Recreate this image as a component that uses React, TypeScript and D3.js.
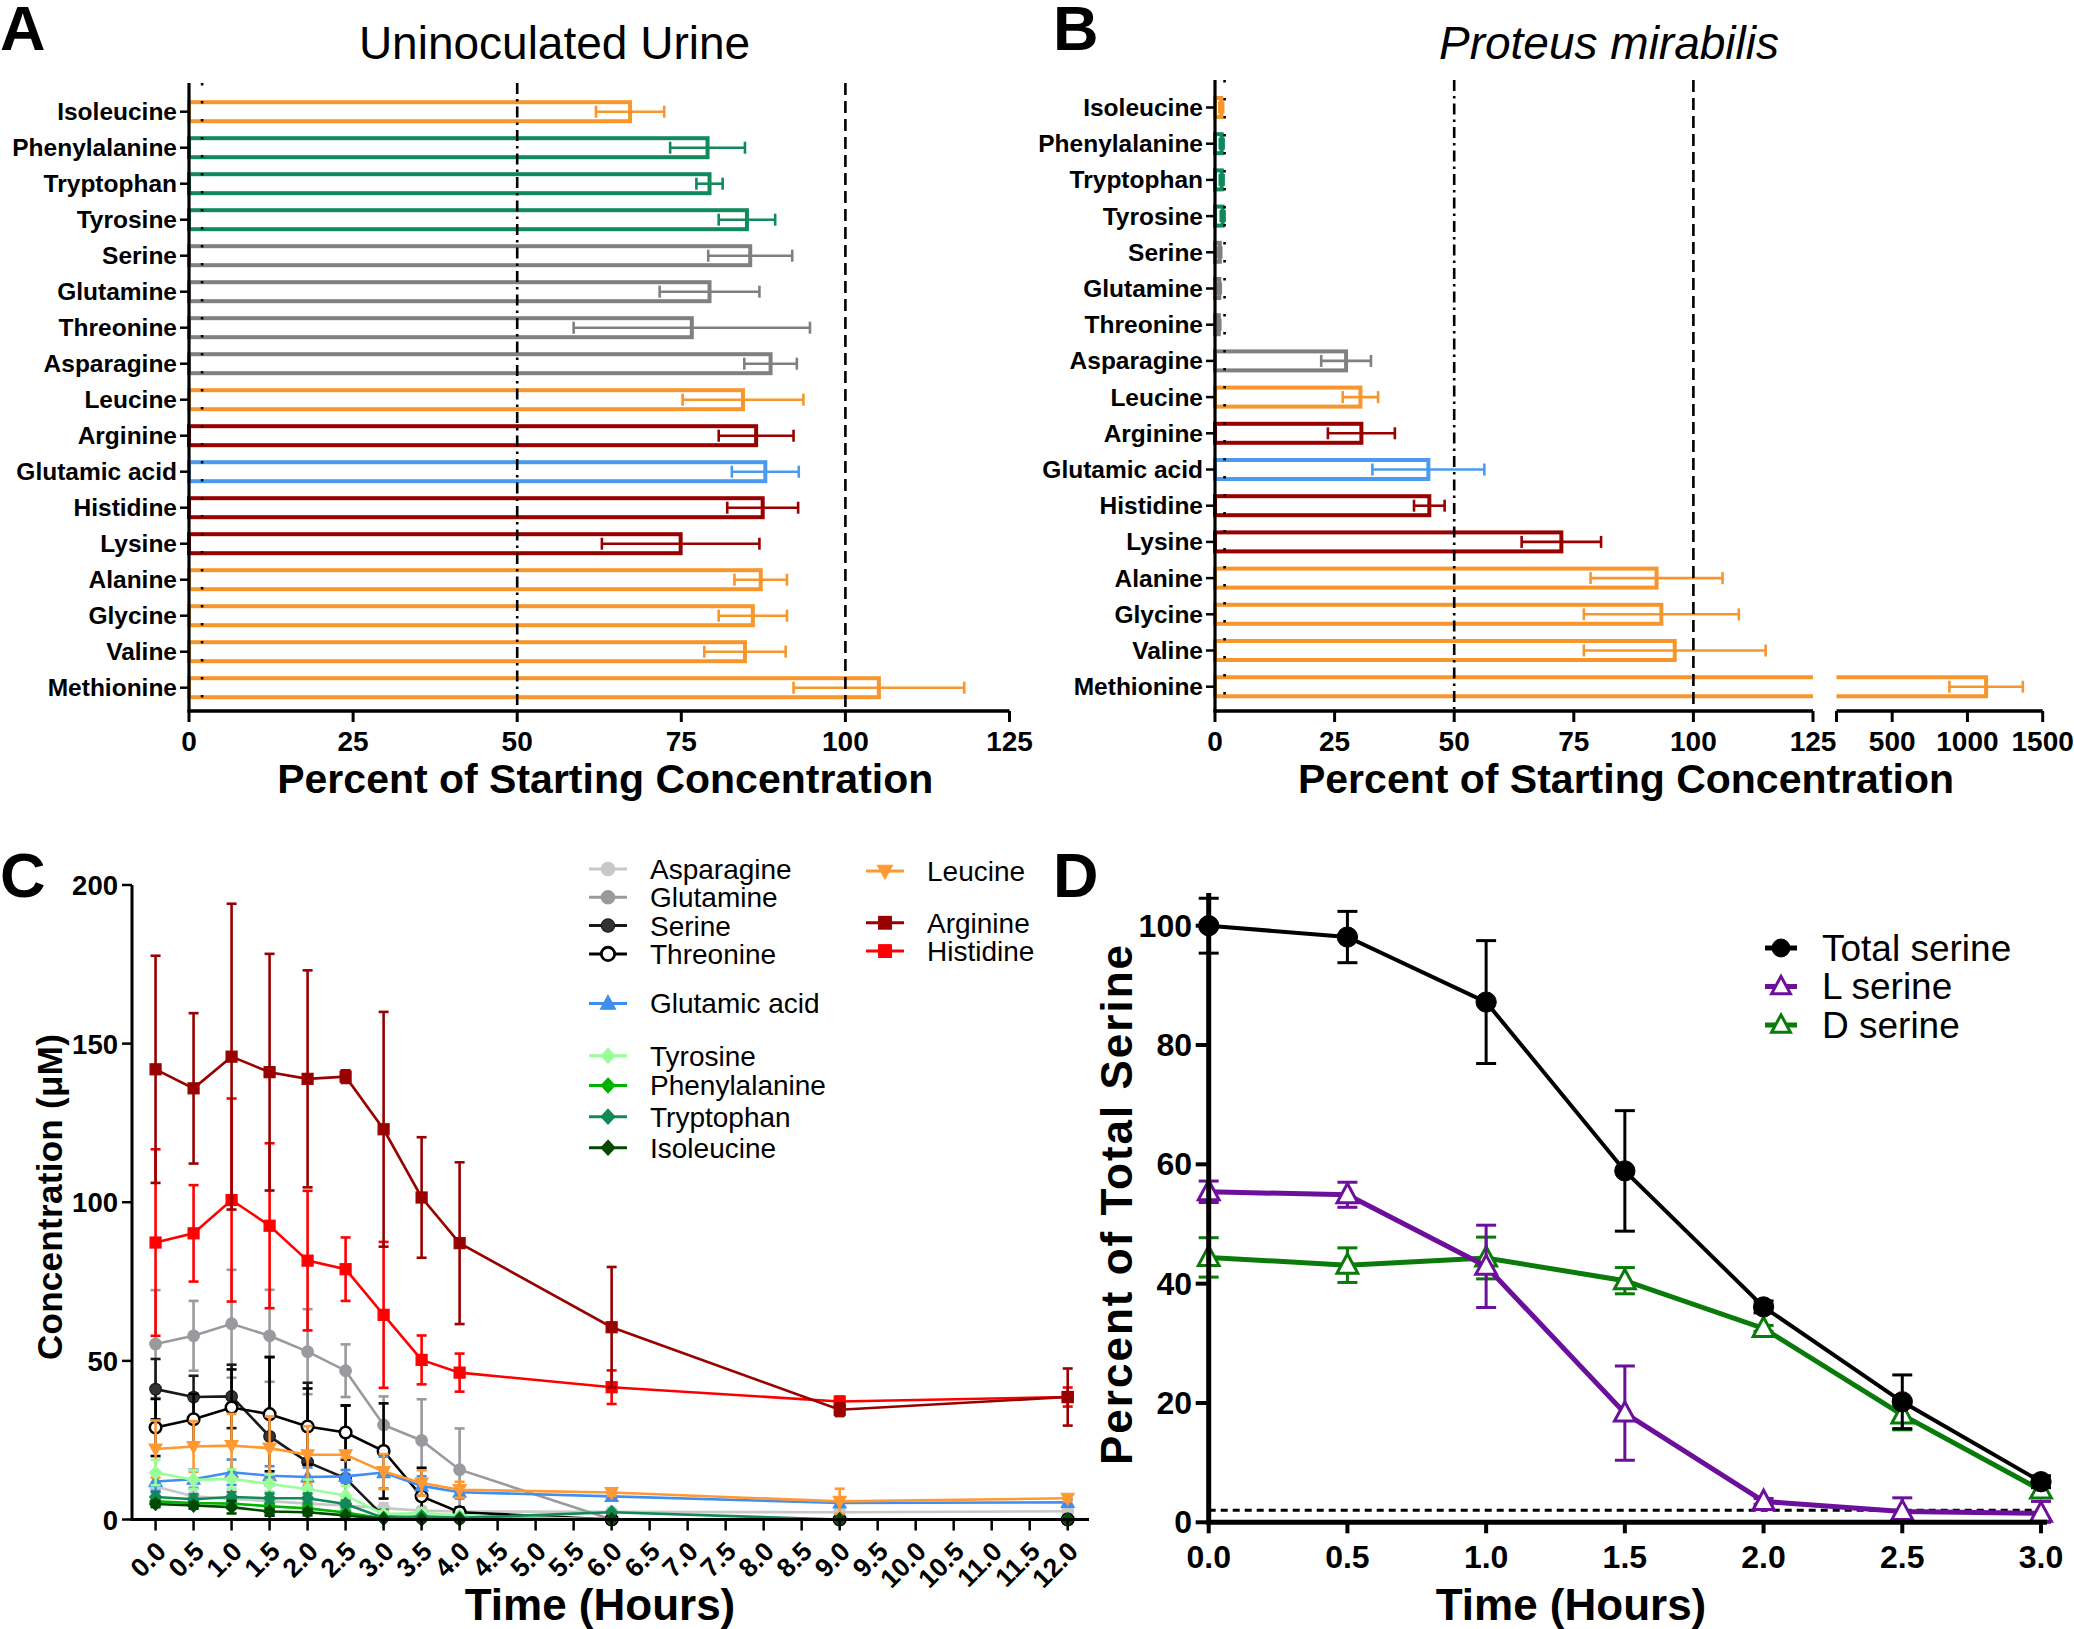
import React from "react";
import * as d3 from "d3";

const FONT = "'Liberation Sans', Arial, Helvetica, sans-serif";

// ---------- Panels A & B data ----------
const aminoAcids = ["Isoleucine", "Phenylalanine", "Tryptophan", "Tyrosine", "Serine", "Glutamine", "Threonine", "Asparagine", "Leucine", "Arginine", "Glutamic acid", "Histidine", "Lysine", "Alanine", "Glycine", "Valine", "Methionine"];
const aminoGroup = ["hydrophobic", "aromatic", "aromatic", "aromatic", "polar", "polar", "polar", "polar", "hydrophobic", "basic", "acidic", "basic", "basic", "hydrophobic", "hydrophobic", "hydrophobic", "hydrophobic"];
const uninocMean = [67.2, 79.0, 79.3, 85.0, 85.5, 79.3, 76.6, 88.6, 84.4, 86.4, 87.8, 87.4, 74.9, 87.1, 85.9, 84.7, 105.1];
const uninocSD = [5.2, 5.7, 2.0, 4.3, 6.4, 7.6, 18.0, 4.0, 9.2, 5.7, 5.1, 5.4, 12.0, 4.0, 5.2, 6.2, 13.0];
const proteusMean = [1.3, 1.4, 1.4, 1.6, 1.0, 0.9, 0.8, 27.4, 30.4, 30.6, 44.6, 44.8, 72.4, 92.3, 93.3, 96.1, 1124];
const proteusSD = [0.4, 0.4, 0.4, 0.4, 0.3, 0.3, 0.3, 5.2, 3.7, 7.0, 11.7, 3.2, 8.3, 13.8, 16.2, 19.0, 244];
const pctTicks = [0, 25, 50, 75, 100, 125];
const pctTicksHigh = [500, 1000, 1500];
const refLines = [
  { value: 2, dash: "2.5,15.5" },
  { value: 50, dash: "11,5,2.5,5" },
  { value: 100, dash: "12,6" },
];
const groupColor: Record<string, string> = {
  hydrophobic: "#F7962C",
  aromatic: "#108A5C",
  polar: "#808080",
  basic: "#990000",
  acidic: "#4A9BF0",
};

// ---------- Panel C data ----------
const timeC = [0, 0.5, 1, 1.5, 2, 2.5, 3, 3.5, 4, 6, 9, 12];
const timeTicksC = [0, 0.5, 1, 1.5, 2, 2.5, 3, 3.5, 4, 4.5, 5, 5.5, 6, 6.5, 7, 7.5, 8, 8.5, 9, 9.5, 10, 10.5, 11, 11.5, 12];
const concTicks = [0, 50, 100, 150, 200];
const asparagine = [10.4, 7.3, 6.5, 5.8, 5.0, 4.4, 3.6, 2.8, 2.5, 2.4, 2.3, 2.6];
const asparagineSD = [4, 3, 3, 3, 2.5, 2, 1.5, 1, 1, 0.5, 0.5, 0.5];
const glutamine = [55.3, 57.9, 61.7, 57.9, 52.9, 46.9, 29.8, 24.9, 15.7, 0, 0, 0];
const glutamineSD = [17, 11, 17, 14.5, 13.4, 8.3, 9, 13, 13, 0, 0, 0];
const serine = [41.1, 38.6, 38.8, 26.2, 18.1, 13.0, 1.0, 0.5, 0.3, 0, 0, 0];
const serineSD = [9.5, 6.7, 10, 25, 25, 23, 2, 1, 0.5, 0, 0, 0];
const threonine = [29.0, 31.6, 35.3, 33.2, 29.3, 27.4, 21.6, 7.3, 2.3, 0, 0, 0];
const threonineSD = [9, 8, 12, 18, 12, 8.5, 15, 9, 1.5, 0, 0, 0];
const glutamicAcid = [12.0, 12.7, 14.9, 13.8, 13.4, 13.6, 14.8, 10.6, 8.6, 7.3, 5.2, 5.4];
const glutamicAcidSD = [3, 3, 4, 3, 3, 2, 5, 3, 2, 1, 1, 1];
const tyrosine = [14.8, 12.5, 12.8, 11.2, 9.6, 7.6, 1.7, 2.0, 1.3, 0, 0, 0];
const tyrosineSD = [4, 3, 3, 3, 3, 3, 1, 1, 0.5, 0, 0, 0];
const phenylalanine = [5.7, 5.2, 5.0, 4.2, 3.5, 2.2, 0.3, 0.3, 0.3, 0, 0, 0];
const phenylalanineSD = [1.5, 1.5, 1.5, 1, 1, 0.5, 0, 0, 0, 0, 0, 0];
const tryptophan = [7.1, 6.4, 7.1, 6.7, 6.7, 4.9, 0.5, 1.0, 0.5, 2.3, 0, 0];
const tryptophanSD = [1.5, 1.5, 1.5, 1.5, 1.5, 1, 0, 0, 0, 0, 0, 0];
const isoleucine = [4.9, 4.4, 3.9, 2.5, 2.3, 1.3, 0.2, 0, 0, 0, 0, 0];
const isoleucineSD = [1, 1, 2, 1, 1, 0.5, 0, 0, 0, 0, 0, 0];
const leucine = [22.2, 23.0, 23.3, 22.5, 20.4, 20.4, 15.1, 11.5, 9.4, 8.5, 5.7, 6.7];
const leucineSD = [9, 8, 10, 10, 9, 1, 5.5, 4, 2.5, 1, 4, 1];
const arginine = [141.9, 135.9, 145.9, 141.0, 138.9, 139.6, 123.0, 101.5, 87.1, 60.6, 34.6, 38.6];
const arginineSD = [35.8, 23.7, 48.2, 37.3, 34.2, 2.0, 37.0, 19.0, 25.5, 19.0, 2.0, 9.0];
const histidine = [87.3, 90.2, 100.7, 92.6, 81.6, 78.9, 64.5, 50.3, 46.3, 41.7, 37.2, 38.6];
const histidineSD = [29.4, 15.2, 32.0, 26.0, 22.0, 10.0, 23.0, 7.7, 6.0, 5.3, 1.5, 3.0];

// ---------- Panel D data ----------
const timeD = [0, 0.5, 1, 1.5, 2, 2.5, 3];
const timeTicksD = [0, 0.5, 1, 1.5, 2, 2.5, 3];
const pctTicksD = [0, 20, 40, 60, 80, 100];
const totalSerine = [100, 98.1, 87.2, 58.9, 36.1, 20.2, 6.8];
const totalSerineSD = [4.6, 4.3, 10.3, 10.1, 1.0, 4.5, 1.0];
const lSerine = [55.4, 54.9, 42.9, 18.3, 3.5, 1.8, 1.5];
const lSerineSD = [1.8, 2.1, 6.9, 7.9, 0.5, 2.3, 2.0];
const dSerine = [44.4, 43.1, 44.3, 40.5, 32.5, 18.0, 5.4];
const dSerineSD = [3.3, 2.9, 3.5, 2.2, 0.5, 2.5, 1.0];
const detectionLimit = 2;

type Shape = "circle" | "square" | "triUp" | "triDown" | "diamond";

function Marker({ shape, x, y, color, fill, s = 1, sw = 1.5 }: { shape: Shape; x: number; y: number; color: string; fill: string; s?: number; sw?: number }) {
  if (shape === "circle") return <circle cx={x} cy={y} r={5.8 * s} fill={fill} stroke={color} strokeWidth={sw} />;
  if (shape === "square") return <rect x={x - 5.5 * s} y={y - 5.5 * s} width={11 * s} height={11 * s} fill={fill} stroke={color} strokeWidth={sw} />;
  let pts: number[][] = [];
  if (shape === "triUp") pts = [[0, -7], [6.5, 5], [-6.5, 5]];
  if (shape === "triDown") pts = [[0, 7], [6.5, -5], [-6.5, -5]];
  if (shape === "diamond") pts = [[0, -6.5], [6, 0], [0, 6.5], [-6, 0]];
  return <polygon points={pts.map((p) => `${x + p[0] * s},${y + p[1] * s}`).join(" ")} fill={fill} stroke={color} strokeWidth={sw} strokeLinejoin="miter" />;
}

function BarPanel({ means, sds, xLow, xHigh, y, axisTop, axisY, labelRight, breakAt }: any) {
  const x0 = xLow(0);
  const xv = (v: number) => (breakAt != null && v > breakAt ? xHigh(v) : xLow(v));
  const half = 9.5;
  return (
    <g>
      {aminoAcids.map((name, i) => {
        const c = groupColor[aminoGroup[i]];
        const yc = y(name);
        const m = means[i];
        const sd = sds[i];
        let bar;
        if (breakAt != null && m > breakAt) {
          const xe1 = xLow(breakAt);
          const xs2 = xHigh.range()[0];
          const xe2 = xHigh(m);
          bar = (
            <g>
              <path d={`M${xe1},${yc - half}H${x0}V${yc + half}H${xe1}`} fill="#fff" stroke={c} strokeWidth={4} />
              <path d={`M${xs2},${yc - half}H${xe2}V${yc + half}H${xs2}`} fill="#fff" stroke={c} strokeWidth={4} />
            </g>
          );
        } else {
          bar = <rect x={x0} y={yc - half} width={Math.max(0.5, xLow(m) - x0)} height={half * 2} fill="#fff" stroke={c} strokeWidth={4} />;
        }
        const lo = xv(Math.max(0, m - sd));
        const hi = xv(m + sd);
        return (
          <g key={name}>
            {bar}
            <line x1={lo} x2={hi} y1={yc} y2={yc} stroke={c} strokeWidth={2.6} />
            <line x1={lo} x2={lo} y1={yc - 6} y2={yc + 6} stroke={c} strokeWidth={2.6} />
            <line x1={hi} x2={hi} y1={yc - 6} y2={yc + 6} stroke={c} strokeWidth={2.6} />
          </g>
        );
      })}
      {refLines.map((r) => (
        <line key={r.value} x1={xLow(r.value)} x2={xLow(r.value)} y1={axisTop} y2={axisY} stroke="#000" strokeWidth={2.6} strokeDasharray={r.dash} />
      ))}
      {/* y axis */}
      <line x1={x0} x2={x0} y1={axisTop} y2={axisY + 1.5} stroke="#000" strokeWidth={3.2} />
      {aminoAcids.map((name) => (
        <g key={name}>
          <line x1={x0 - 9} x2={x0} y1={y(name)} y2={y(name)} stroke="#000" strokeWidth={2.5} />
          <text x={labelRight} y={y(name) + 8.5} textAnchor="end" fontFamily={FONT} fontWeight="bold" fontSize={24.5}>{name}</text>
        </g>
      ))}
      {/* x axis */}
      <line x1={x0 - 1.5} x2={xLow.range()[1]} y1={axisY} y2={axisY} stroke="#000" strokeWidth={3.5} />
      {pctTicks.map((t) => (
        <g key={t}>
          <line x1={xLow(t)} x2={xLow(t)} y1={axisY} y2={axisY + 11} stroke="#000" strokeWidth={3} />
          <text x={xLow(t)} y={axisY + 40} textAnchor="middle" fontFamily={FONT} fontWeight="bold" fontSize={28}>{t}</text>
        </g>
      ))}
      {breakAt != null && (
        <g>
          <line x1={xHigh.range()[0]} x2={xHigh.range()[1]} y1={axisY} y2={axisY} stroke="#000" strokeWidth={3.5} />
          <line x1={xHigh.range()[0]} x2={xHigh.range()[0]} y1={axisY} y2={axisY + 11} stroke="#000" strokeWidth={3} />
          {pctTicksHigh.map((t) => (
            <g key={t}>
              <line x1={xHigh(t)} x2={xHigh(t)} y1={axisY} y2={axisY + 11} stroke="#000" strokeWidth={3} />
              <text x={xHigh(t)} y={axisY + 40} textAnchor="middle" fontFamily={FONT} fontWeight="bold" fontSize={28}>{t}</text>
            </g>
          ))}
        </g>
      )}
    </g>
  );
}

export default function App() {
  // A & B scales
  const xA = d3.scaleLinear().domain([0, 125]).range([189, 1009.5]);
  const yA = d3.scalePoint<string>().domain(aminoAcids).range([111.7, 687.7]);
  const xB1 = d3.scaleLinear().domain([0, 125]).range([1215, 1813]);
  const xB2 = d3.scaleLinear().domain([130, 1500]).range([1836.5, 2042.7]);
  const yB = d3.scalePoint<string>().domain(aminoAcids).range([107.5, 686.7]);

  // C scales
  const xC = d3.scaleLinear().domain([-0.31, 12.28]).range([132, 1089]);
  const yC = d3.scaleLinear().domain([0, 200]).range([1519.5, 885]);
  const seriesC = [
    { name: "Asparagine", mean: asparagine, sd: asparagineSD, color: "#C8C8C8", shape: "circle" as Shape, fill: "#C8C8C8" },
    { name: "Glutamine", mean: glutamine, sd: glutamineSD, color: "#9A9A9E", shape: "circle" as Shape, fill: "#9A9A9E" },
    { name: "Serine", mean: serine, sd: serineSD, color: "#1A1A1A", shape: "circle" as Shape, fill: "#333333" },
    { name: "Threonine", mean: threonine, sd: threonineSD, color: "#000000", shape: "circle" as Shape, fill: "#FFFFFF" },
    { name: "Glutamic acid", mean: glutamicAcid, sd: glutamicAcidSD, color: "#3F8EF2", shape: "triUp" as Shape, fill: "#3F8EF2" },
    { name: "Leucine", mean: leucine, sd: leucineSD, color: "#FF9933", shape: "triDown" as Shape, fill: "#FF9933" },
    { name: "Tyrosine", mean: tyrosine, sd: tyrosineSD, color: "#99FF99", shape: "diamond" as Shape, fill: "#99FF99" },
    { name: "Phenylalanine", mean: phenylalanine, sd: phenylalanineSD, color: "#00B400", shape: "diamond" as Shape, fill: "#00B400" },
    { name: "Tryptophan", mean: tryptophan, sd: tryptophanSD, color: "#118A55", shape: "diamond" as Shape, fill: "#118A55" },
    { name: "Isoleucine", mean: isoleucine, sd: isoleucineSD, color: "#004A00", shape: "diamond" as Shape, fill: "#004A00" },
    { name: "Histidine", mean: histidine, sd: histidineSD, color: "#FF0000", shape: "square" as Shape, fill: "#FF0000" },
    { name: "Arginine", mean: arginine, sd: arginineSD, color: "#990000", shape: "square" as Shape, fill: "#990000" },
  ];
  const legendC = [
    { name: "Asparagine", col: 0, slot: 0 },
    { name: "Glutamine", col: 0, slot: 1 },
    { name: "Serine", col: 0, slot: 2 },
    { name: "Threonine", col: 0, slot: 3 },
    { name: "Glutamic acid", col: 0, slot: 4.75 },
    { name: "Tyrosine", col: 0, slot: 6.6 },
    { name: "Phenylalanine", col: 0, slot: 7.65 },
    { name: "Tryptophan", col: 0, slot: 8.75 },
    { name: "Isoleucine", col: 0, slot: 9.85 },
    { name: "Leucine", col: 1, slot: 0.07 },
    { name: "Arginine", col: 1, slot: 1.9 },
    { name: "Histidine", col: 1, slot: 2.9 },
  ];
  const lineC = d3.line<number>().x((_, i) => xC(timeC[i])).y((d) => yC(d));

  // D scales
  const xD = d3.scaleLinear().domain([0, 3]).range([1208.7, 2041]);
  const yD = d3.scaleLinear().domain([0, 100]).range([1522.3, 925.7]);
  const seriesD = [
    { name: "D serine", mean: dSerine, sd: dSerineSD, color: "#0A7A0A", shape: "triUp" as Shape, fill: "#FFFFFF", lw: 5 },
    { name: "L serine", mean: lSerine, sd: lSerineSD, color: "#6C0F9A", shape: "triUp" as Shape, fill: "#FFFFFF", lw: 5 },
    { name: "Total serine", mean: totalSerine, sd: totalSerineSD, color: "#000000", shape: "circle" as Shape, fill: "#000000", lw: 4 },
  ];
  const legendD = ["Total serine", "L serine", "D serine"];
  const lineD = d3.line<number>().x((_, i) => xD(timeD[i])).y((d) => yD(d));
  const fmt1 = d3.format(".1f");

  return (
    <svg width={2074} height={1629} style={{ position: "absolute", left: 0, top: 0, display: "block", background: "#fff" }} fontFamily={FONT}>
      <rect width={2074} height={1629} fill="#fff" />
      {/* Panel labels */}
      <text x={0} y={50} fontSize={63} fontWeight="bold">A</text>
      <text x={1053} y={50} fontSize={63} fontWeight="bold">B</text>
      <text x={0} y={897} fontSize={63} fontWeight="bold">C</text>
      <text x={1053} y={897} fontSize={63} fontWeight="bold">D</text>

      {/* Panel A */}
      <text x={554.5} y={59} textAnchor="middle" fontSize={46}>Uninoculated Urine</text>
      <BarPanel means={uninocMean} sds={uninocSD} xLow={xA} xHigh={null} y={yA} axisTop={83} axisY={711} labelRight={177} breakAt={null} />
      <text x={(xA(0) + xA(125)) / 2 + 6} y={793} textAnchor="middle" fontSize={41} fontWeight="bold">Percent of Starting Concentration</text>

      {/* Panel B */}
      <text x={1609} y={59} textAnchor="middle" fontSize={46} fontStyle="italic">Proteus mirabilis</text>
      <BarPanel means={proteusMean} sds={proteusSD} xLow={xB1} xHigh={xB2} y={yB} axisTop={80} axisY={711} labelRight={1203} breakAt={125} />
      <text x={1626} y={793} textAnchor="middle" fontSize={41} fontWeight="bold">Percent of Starting Concentration</text>

      {/* Panel C */}
      <g>
        {seriesC.map((s) => (
          <g key={s.name}>
            <path d={lineC(s.mean) || ""} fill="none" stroke={s.color} strokeWidth={2.6} />
            {s.mean.map((m, i) => {
              const x = xC(timeC[i]);
              if (s.sd[i] <= 0) return null;
              const lo = yC(Math.max(0, m - s.sd[i]));
              const hi = yC(m + s.sd[i]);
              return (
                <g key={i}>
                  <line x1={x} x2={x} y1={lo} y2={hi} stroke={s.color} strokeWidth={2.6} />
                  <line x1={x - 5} x2={x + 5} y1={lo} y2={lo} stroke={s.color} strokeWidth={2.6} />
                  <line x1={x - 5} x2={x + 5} y1={hi} y2={hi} stroke={s.color} strokeWidth={2.6} />
                </g>
              );
            })}
            {s.mean.map((m, i) => (
              <Marker key={i} shape={s.shape} x={xC(timeC[i])} y={yC(m)} color={s.color} fill={s.fill} sw={s.name === "Threonine" ? 2.5 : 1.2} />
            ))}
          </g>
        ))}
        {/* axes */}
        <line x1={xC.range()[0]} x2={xC.range()[0]} y1={yC(200)} y2={yC(0) + 1.5} stroke="#000" strokeWidth={3} />
        {concTicks.map((t) => (
          <g key={t}>
            <line x1={xC.range()[0] - 10} x2={xC.range()[0]} y1={yC(t)} y2={yC(t)} stroke="#000" strokeWidth={2.5} />
            <text x={118} y={yC(t) + 10} textAnchor="end" fontSize={27.5} fontWeight="bold">{t}</text>
          </g>
        ))}
        <line x1={xC.range()[0] - 1.5} x2={xC.range()[1]} y1={yC(0)} y2={yC(0)} stroke="#000" strokeWidth={3.2} />
        {timeTicksC.map((t) => (
          <g key={t}>
            <line x1={xC(t)} x2={xC(t)} y1={yC(0)} y2={yC(0) + 11} stroke="#000" strokeWidth={2.5} />
            <text transform={`translate(${xC(t) + 12},${1553}) rotate(-45)`} textAnchor="end" fontSize={26.5} fontWeight="bold">{fmt1(t)}</text>
          </g>
        ))}
        <text x={600} y={1620} textAnchor="middle" fontSize={44} fontWeight="bold">Time (Hours)</text>
        <text transform={`translate(62,1197) rotate(-90)`} textAnchor="middle" fontSize={35} fontWeight="bold" letterSpacing={0.3}>Concentration (μM)</text>
        {/* legend */}
        {legendC.map((l) => {
          const s = seriesC.find((q) => q.name === l.name)!;
          const ly = 869 + l.slot * 28.3;
          const lx = l.col === 0 ? 589 : 866;
          return (
            <g key={l.name}>
              <line x1={lx} x2={lx + 38} y1={ly} y2={ly} stroke={s.color} strokeWidth={3} />
              <Marker shape={s.shape} x={lx + 19} y={ly} color={s.color} fill={s.fill} s={1.15} sw={s.name === "Threonine" ? 2.8 : 1.2} />
              <text x={lx + 61} y={ly + 10} fontSize={28}>{l.name}</text>
            </g>
          );
        })}
      </g>

      {/* Panel D */}
      <g>
        <line x1={xD(0)} x2={2047} y1={yD(detectionLimit)} y2={yD(detectionLimit)} stroke="#000" strokeWidth={3} strokeDasharray="7,5" />
        {seriesD.map((s) => (
          <g key={s.name}>
            <path d={lineD(s.mean) || ""} fill="none" stroke={s.color} strokeWidth={s.lw} />
            {s.mean.map((m, i) => {
              const x = xD(timeD[i]);
              const lo = yD(Math.max(0, m - s.sd[i]));
              const hi = yD(m + s.sd[i]);
              return (
                <g key={i}>
                  <line x1={x} x2={x} y1={lo} y2={hi} stroke={s.color} strokeWidth={3} />
                  <line x1={x - 10} x2={x + 10} y1={lo} y2={lo} stroke={s.color} strokeWidth={3} />
                  <line x1={x - 10} x2={x + 10} y1={hi} y2={hi} stroke={s.color} strokeWidth={3} />
                </g>
              );
            })}
            {s.mean.map((m, i) => (
              <Marker key={i} shape={s.shape} x={xD(timeD[i])} y={yD(m)} color={s.color} fill={s.fill} s={s.shape === "circle" ? 1.75 : 1.6} sw={s.shape === "circle" ? 1 : 3} />
            ))}
          </g>
        ))}
        <line x1={xD(0)} x2={xD(0)} y1={yD(105.5)} y2={yD(0) + 2.5} stroke="#000" strokeWidth={5} />
        {pctTicksD.map((t) => (
          <g key={t}>
            <line x1={xD(0) - 13} x2={xD(0)} y1={yD(t)} y2={yD(t)} stroke="#000" strokeWidth={4} />
            <text x={1192} y={yD(t) + 11} textAnchor="end" fontSize={32} fontWeight="bold">{t}</text>
          </g>
        ))}
        <line x1={xD(0) - 2.5} x2={2047} y1={yD(0)} y2={yD(0)} stroke="#000" strokeWidth={5} />
        {timeTicksD.map((t) => (
          <g key={t}>
            <line x1={xD(t)} x2={xD(t)} y1={yD(0)} y2={yD(0) + 11} stroke="#000" strokeWidth={4} />
            <text x={xD(t)} y={1568} textAnchor="middle" fontSize={32} fontWeight="bold">{fmt1(t)}</text>
          </g>
        ))}
        <text x={1571} y={1620} textAnchor="middle" fontSize={44} fontWeight="bold">Time (Hours)</text>
        <text transform={`translate(1132,1204) rotate(-90)`} textAnchor="middle" fontSize={44} fontWeight="bold" letterSpacing={2}>Percent of Total Serine</text>
        {legendD.map((name, i) => {
          const s = seriesD.find((q) => q.name === name)!;
          const ly = 948 + i * 38.5;
          return (
            <g key={name}>
              <line x1={1765} x2={1797} y1={ly} y2={ly} stroke={s.color} strokeWidth={5} />
              <Marker shape={s.shape} x={1781} y={ly} color={s.color} fill={s.fill} s={s.shape === "circle" ? 1.55 : 1.45} sw={s.shape === "circle" ? 1 : 3} />
              <text x={1822} y={ly + 12.5} fontSize={37}>{name}</text>
            </g>
          );
        })}
      </g>
    </svg>
  );
}
